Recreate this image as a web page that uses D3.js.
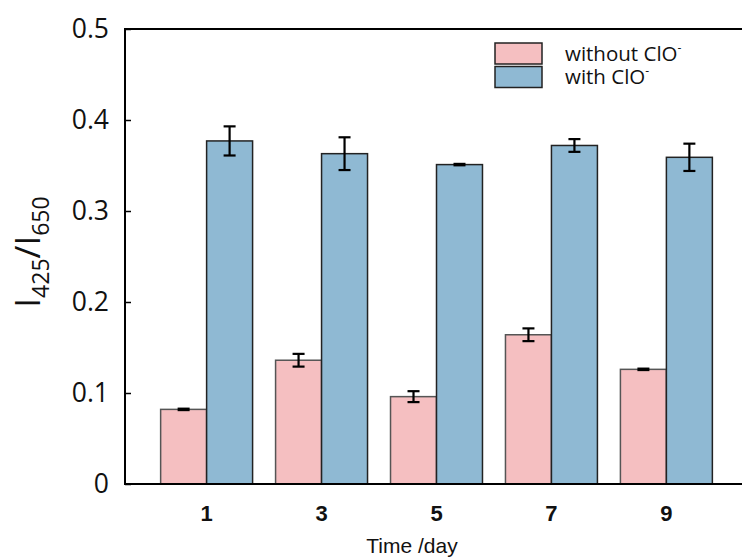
<!DOCTYPE html>
<html>
<head>
<meta charset="utf-8">
<script src="https://cdn.jsdelivr.net/npm/d3@7"></script>
<style>
  html, body { margin: 0; padding: 0; background: #fff; }
  svg { display: block; }
</style>
</head>
<body>
<script>
const days = ["1", "3", "5", "7", "9"];
const seriesNames = ["without ClO", "with ClO"];
const withoutValues = [0.082, 0.136, 0.096, 0.164, 0.126];
const withoutErrors = [0.001, 0.007, 0.006, 0.007, 0.001];
const withValues = [0.377, 0.363, 0.351, 0.372, 0.359];
const withErrors = [0.016, 0.018, 0.001, 0.007, 0.015];
const yTicks = [0, 0.1, 0.2, 0.3, 0.4, 0.5];
const colors = ["#f5bfc1", "#8fb9d3"];

(function () {
const W = 742, H = 558;
const mLeft = 125, mTop = 29, mBottom = 484, mRight = 748;

const svg = d3.select("body").append("svg").attr("width", W).attr("height", H);

const x = d3.scaleBand().domain(days).range([mLeft, mRight]).paddingInner(0.2).paddingOuter(0.31);
const xs = d3.scaleBand().domain([0, 1]).range([0, x.bandwidth()]);
const y = d3.scaleLinear().domain([0, 0.5]).range([mBottom, mTop]);

const series = [
  { name: seriesNames[0], values: withoutValues, errors: withoutErrors, color: colors[0], stroke: "#555" },
  { name: seriesNames[1], values: withValues, errors: withErrors, color: colors[1], stroke: "#222" }
];

// bars
series.forEach((s, si) => {
  svg.append("g").selectAll("rect").data(days).join("rect")
    .attr("x", d => x(d) + xs(si))
    .attr("y", (d, i) => y(s.values[i]))
    .attr("width", xs.bandwidth())
    .attr("height", (d, i) => y(0) - y(s.values[i]))
    .attr("fill", s.color)
    .attr("stroke", s.stroke)
    .attr("stroke-width", 1.5);
});

// error bars
series.forEach((s, si) => {
  const g = svg.append("g").attr("stroke", "#000").attr("stroke-width", 2.2);
  days.forEach((d, i) => {
    const cx = x(d) + xs(si) + xs.bandwidth() / 2;
    const y1 = y(s.values[i] + s.errors[i]);
    const y2 = y(s.values[i] - s.errors[i]);
    if (y2 - y1 < 3) {
      g.append("rect").attr("x", cx - 6).attr("y", (y1 + y2) / 2 - 1.8)
        .attr("width", 12).attr("height", 3.6).attr("fill", "#000").attr("stroke", "none");
    } else {
      g.append("line").attr("x1", cx).attr("x2", cx).attr("y1", y1).attr("y2", y2);
      g.append("line").attr("x1", cx - 6).attr("x2", cx + 6).attr("y1", y1).attr("y2", y1);
      g.append("line").attr("x1", cx - 6).attr("x2", cx + 6).attr("y1", y2).attr("y2", y2);
    }
  });
});

// frame
svg.append("path")
  .attr("d", `M${W},${mTop}H${mLeft}V${mBottom}H${W}`)
  .attr("fill", "none").attr("stroke", "#000").attr("stroke-width", 2);

// y axis
const yAxis = d3.axisRight(y).tickValues(yTicks).tickSize(6).tickFormat("");
const yg = svg.append("g").attr("transform", `translate(${mLeft},0)`).call(yAxis);
yg.select(".domain").remove();
yg.selectAll(".tick line").attr("stroke", "#000").attr("stroke-width", 1.5);

svg.append("g").selectAll("text").data(yTicks).join("text")
  .attr("x", 109).attr("y", d => y(d) + 8.5)
  .attr("text-anchor", "end")
  .attr("font-family", "'Open Sans', sans-serif")
  .attr("font-size", 26.5)
  .attr("fill", "#111")
  .text(d => d === 0 ? "0" : d3.format(".1f")(d));

// x tick labels
svg.append("g").selectAll("text").data(days).join("text")
  .attr("x", d => x(d) + x.bandwidth() / 2).attr("y", 521)
  .attr("text-anchor", "middle")
  .attr("font-family", "'Liberation Sans Narrow', 'Liberation Sans', Arial, sans-serif")
  .attr("font-weight", "bold")
  .attr("font-size", 22)
  .attr("fill", "#111")
  .text(d => d);

// x title
svg.append("text")
  .attr("x", 412).attr("y", 553)
  .attr("text-anchor", "middle")
  .attr("font-family", "'Liberation Sans Narrow', 'Liberation Sans', Arial, sans-serif")
  .attr("font-size", 21)
  .attr("fill", "#111")
  .text("Time /day");

// y title
const yt = svg.append("text")
  .attr("transform", "translate(40,252) rotate(-90)")
  .attr("text-anchor", "middle")
  .attr("font-family", "'Open Sans', sans-serif")
  .attr("fill", "#111");
yt.append("tspan").attr("font-size", 35).text("I");
yt.append("tspan").attr("font-size", 23).attr("dy", 9).text("425");
yt.append("tspan").attr("font-size", 35).attr("dy", -9).text("/I");
yt.append("tspan").attr("font-size", 23).attr("dy", 9).text("650");

// legend
const lg = svg.append("g");
series.forEach((s, si) => {
  const ly = 43 + si * 23.5;
  lg.append("rect").attr("x", 495).attr("y", ly).attr("width", 47).attr("height", 21)
    .attr("fill", s.color).attr("stroke", "#222").attr("stroke-width", 1.5);
  const t = lg.append("text").attr("x", 565).attr("y", ly + 17.5)
    .attr("font-family", "'Open Sans', sans-serif").attr("font-size", 20.5).attr("fill", "#111");
  t.append("tspan").text(s.name);
  t.append("tspan").attr("font-size", 12).attr("dy", -9).text("-");
});
})();
</script>
</body>
</html>
